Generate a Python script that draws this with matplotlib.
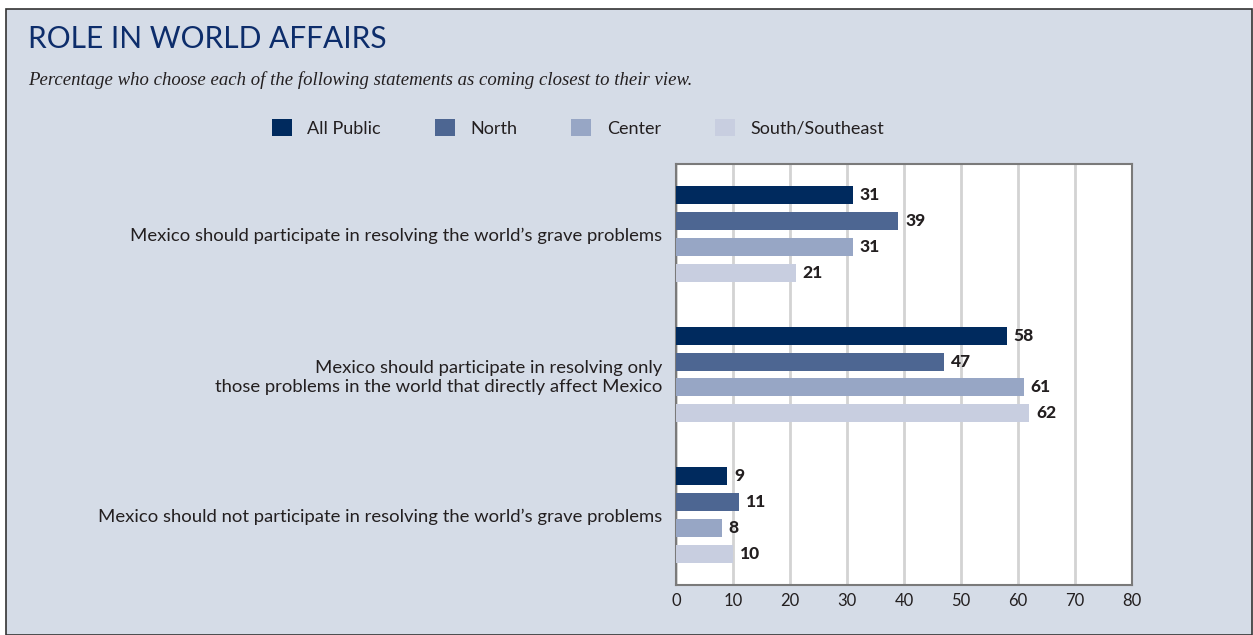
import numpy as np
import matplotlib
matplotlib.use("Agg")
import matplotlib.pyplot as plt
from matplotlib.patches import Rectangle

# chart data
statements = [
    "Mexico should participate in resolving the world\u2019s grave problems",
    "Mexico should participate in resolving only\nthose problems in the world that directly affect Mexico",
    "Mexico should not participate in resolving the world\u2019s grave problems",
]
series_names = ["All Public", "North", "Center", "South/Southeast"]
all_public = [31, 58, 9]
north = [39, 47, 11]
center = [31, 61, 8]
south = [21, 62, 10]
x_ticks = [0, 10, 20, 30, 40, 50, 60, 70, 80]

colors = ["#002a5e", "#4d6692", "#97a6c5", "#c8cee0"]
bg = "#d5dce7"
text_dark = "#231f20"

plt.rcParams["font.family"] = ["Lato", "DejaVu Sans"]

fig = plt.figure(figsize=(12.53, 6.35), dpi=100)
fig.patch.set_facecolor("white")

# panel background with thin dark border
W, H = 1253, 635
panel = Rectangle((6 / W, 0), (1252 - 6) / W, (635 - 9) / H, transform=fig.transFigure,
                  facecolor=bg, edgecolor="#333333", linewidth=1.2, zorder=-10)
fig.patches.append(panel)

fig.text(28 / W, 1 - 39 / H, "ROLE IN WORLD AFFAIRS", fontsize=21.5, color="#0d2d6b",
         va="center", ha="left")
fig.text(28 / W, 1 - 80 / H, "Percentage who choose each of the following statements as coming closest to their view.",
         fontsize=13.5, style="italic", family=["Liberation Serif", "DejaVu Serif"],
         color=text_dark, va="center", ha="left")

ax = fig.add_axes([676 / W, 1 - 585 / H, (1132 - 676) / W, (585 - 164) / H])
ax.set_facecolor("white")

pitch = 26 / 140.75
bar_h = 18 / 140.75
groups = np.arange(len(statements))
all_series = [all_public, north, center, south]
for i, (vals, name, col) in enumerate(zip(all_series, series_names, colors)):
    ypos = groups + (i - 1.5) * pitch
    bars = ax.barh(ypos, vals, height=bar_h, color=col, label=name, zorder=3)
    ax.bar_label(bars, labels=[str(v) for v in vals], padding=5, fontsize=12.5,
                 fontweight="black", color=text_dark)

ax.set_xlim(0, 80)
ax.set_ylim(2.5, -0.5)
ax.set_xticks(x_ticks)
ax.set_xticklabels([str(t) for t in x_ticks], fontsize=12, color=text_dark)
ax.set_yticks(groups)
ax.set_yticklabels(statements, fontsize=13.3, color=text_dark, ha="right",
                   multialignment="right")
ax.tick_params(axis="y", length=0, pad=10)
ax.tick_params(axis="x", length=0, pad=6)
ax.xaxis.grid(True, color="#d3d3d3", linewidth=2, zorder=0)
ax.set_axisbelow(True)
for s in ax.spines.values():
    s.set_color("#7a7a7a")
    s.set_linewidth(1.5)

fig.legend(loc="center", bbox_to_anchor=(578 / W, 1 - 128 / H), ncol=4, frameon=False,
           fontsize=13, handlelength=1.1, handleheight=1.1, handletextpad=0.85,
           columnspacing=3.0, labelcolor=text_dark)

fig.savefig("out.png", dpi=100, facecolor=fig.get_facecolor())
